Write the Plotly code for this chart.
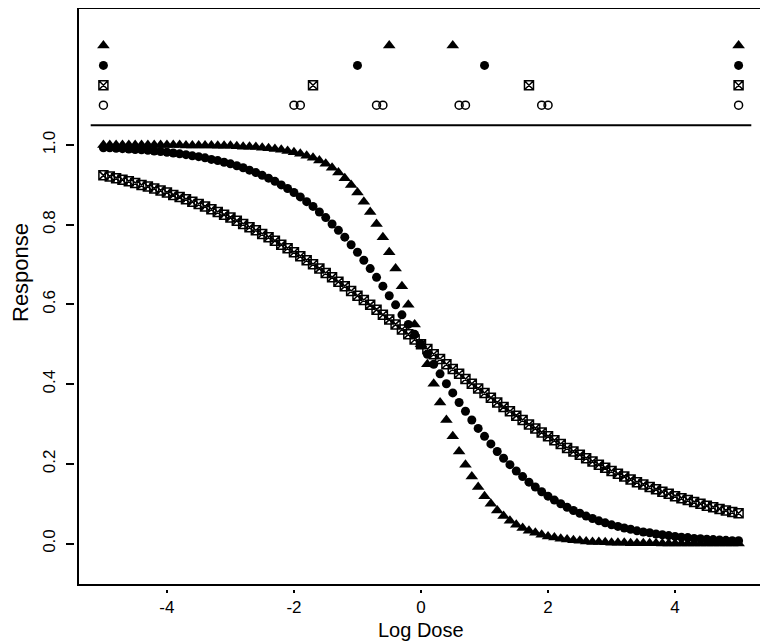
import plotly.graph_objects as go

log_dose = [-5.0, -4.9, -4.8, -4.7, -4.6, -4.5, -4.4, -4.3, -4.2, -4.1,
            -4.0, -3.9, -3.8, -3.7, -3.6, -3.5, -3.4, -3.3, -3.2, -3.1,
            -3.0, -2.9, -2.8, -2.7, -2.6, -2.5, -2.4, -2.3, -2.2, -2.1,
            -2.0, -1.9, -1.8, -1.7, -1.6, -1.5, -1.4, -1.3, -1.2, -1.1,
            -1.0, -0.9, -0.8, -0.7, -0.6, -0.5, -0.4, -0.3, -0.2, -0.1,
            0.0, 0.1, 0.2, 0.3, 0.4, 0.5, 0.6, 0.7, 0.8, 0.9,
            1.0, 1.1, 1.2, 1.3, 1.4, 1.5, 1.6, 1.7, 1.8, 1.9,
            2.0, 2.1, 2.2, 2.3, 2.4, 2.5, 2.6, 2.7, 2.8, 2.9,
            3.0, 3.1, 3.2, 3.3, 3.4, 3.5, 3.6, 3.7, 3.8, 3.9,
            4.0, 4.1, 4.2, 4.3, 4.4, 4.5, 4.6, 4.7, 4.8, 4.9, 5.0]

resp_steep = [1.000, 1.000, 1.000, 1.000, 1.000, 1.000, 1.000, 1.000, 1.000, 1.000,
              1.000, 1.000, 1.000, 0.999, 0.999, 0.999, 0.999, 0.999, 0.998, 0.998,
              0.998, 0.997, 0.996, 0.996, 0.995, 0.993, 0.992, 0.990, 0.988, 0.985,
              0.982, 0.978, 0.973, 0.968, 0.961, 0.953, 0.943, 0.931, 0.917, 0.900,
              0.881, 0.858, 0.832, 0.802, 0.769, 0.731, 0.690, 0.646, 0.599, 0.550,
              0.500,
              0.450, 0.401, 0.354, 0.310, 0.269, 0.231, 0.198, 0.168, 0.142, 0.119,
              0.100, 0.083, 0.069, 0.057, 0.047, 0.039, 0.032, 0.027, 0.022, 0.018,
              0.015, 0.012, 0.010, 0.008, 0.007, 0.005, 0.004, 0.004, 0.003, 0.002,
              0.002, 0.002, 0.001, 0.001, 0.001, 0.001, 0.001, 0.000, 0.000, 0.000,
              0.000, 0.000, 0.000, 0.000, 0.000, 0.000, 0.000, 0.000, 0.000, 0.000]

resp_mid = [0.993, 0.993, 0.992, 0.991, 0.990, 0.989, 0.988, 0.987, 0.985, 0.984,
            0.982, 0.980, 0.978, 0.976, 0.973, 0.971, 0.968, 0.964, 0.961, 0.957,
            0.953, 0.948, 0.943, 0.937, 0.931, 0.924, 0.917, 0.909, 0.900, 0.891,
            0.881, 0.870, 0.858, 0.846, 0.832, 0.818, 0.802, 0.786, 0.769, 0.750,
            0.731, 0.711, 0.690, 0.668, 0.646, 0.622, 0.599, 0.574, 0.550, 0.525,
            0.500,
            0.475, 0.450, 0.426, 0.401, 0.378, 0.354, 0.332, 0.310, 0.289, 0.269,
            0.250, 0.231, 0.214, 0.198, 0.182, 0.168, 0.154, 0.142, 0.130, 0.119,
            0.109, 0.100, 0.091, 0.083, 0.076, 0.069, 0.063, 0.057, 0.052, 0.047,
            0.043, 0.039, 0.036, 0.032, 0.029, 0.027, 0.024, 0.022, 0.020, 0.018,
            0.016, 0.015, 0.013, 0.012, 0.011, 0.010, 0.009, 0.008, 0.007, 0.007]

resp_shallow = [0.924, 0.921, 0.917, 0.913, 0.909, 0.905, 0.900, 0.896, 0.891, 0.886,
                0.881, 0.875, 0.870, 0.864, 0.858, 0.852, 0.846, 0.839, 0.832, 0.825,
                0.818, 0.810, 0.802, 0.794, 0.786, 0.777, 0.769, 0.760, 0.750, 0.741,
                0.731, 0.721, 0.711, 0.701, 0.690, 0.679, 0.668, 0.657, 0.646, 0.634,
                0.622, 0.611, 0.599, 0.587, 0.574, 0.562, 0.550, 0.537, 0.525, 0.512,
                0.500,
                0.488, 0.475, 0.463, 0.450, 0.438, 0.426, 0.413, 0.401, 0.389, 0.378,
                0.366, 0.354, 0.343, 0.332, 0.321, 0.310, 0.299, 0.289, 0.279, 0.269,
                0.259, 0.250, 0.240, 0.231, 0.223, 0.214, 0.206, 0.198, 0.190, 0.182,
                0.175, 0.168, 0.161, 0.154, 0.148, 0.142, 0.136, 0.130, 0.125, 0.119,
                0.114, 0.109, 0.104, 0.100, 0.095, 0.091, 0.087, 0.083, 0.079, 0.076]

# design-point rows shown above the reference line
row_tri_x = [-5.0, -0.5, 0.5, 5.0]
row_tri_y = [1.25, 1.25, 1.25, 1.25]
row_dot_x = [-5.0, -1.0, 1.0, 5.0]
row_dot_y = [1.20, 1.20, 1.20, 1.20]
row_sq_x = [-5.0, -1.7, 1.7, 5.0]
row_sq_y = [1.15, 1.15, 1.15, 1.15]
row_open_x = [-5.0, -2.0, -1.9, -0.7, -0.6, 0.6, 0.7, 1.9, 2.0, 5.0]
row_open_y = [1.10] * 10

ref_line_x = [-5.2, 5.2]
ref_line_y = 1.05

x_ticks = [-4, -2, 0, 2, 4]
x_tick_text = ["-4", "-2", "0", "2", "4"]
y_ticks = [0.0, 0.2, 0.4, 0.6, 0.8, 1.0]
y_tick_text = ["0.0", "0.2", "0.4", "0.6", "0.8", "1.0"]

BLACK = "black"
fig = go.Figure()

fig.add_trace(go.Scatter(x=log_dose, y=resp_shallow, mode="markers",
                         marker=dict(symbol="square-x-open", size=9, color=BLACK,
                                     line=dict(width=1.5, color=BLACK))))
fig.add_trace(go.Scatter(x=log_dose, y=resp_mid, mode="markers",
                         marker=dict(symbol="circle", size=9, color=BLACK)))
fig.add_trace(go.Scatter(x=log_dose, y=resp_steep, mode="markers",
                         marker=dict(symbol="triangle-up", size=11, color=BLACK)))

fig.add_trace(go.Scatter(x=row_tri_x, y=row_tri_y, mode="markers",
                         marker=dict(symbol="triangle-up", size=11, color=BLACK)))
fig.add_trace(go.Scatter(x=row_dot_x, y=row_dot_y, mode="markers",
                         marker=dict(symbol="circle", size=9, color=BLACK)))
fig.add_trace(go.Scatter(x=row_sq_x, y=row_sq_y, mode="markers",
                         marker=dict(symbol="square-x-open", size=9, color=BLACK,
                                     line=dict(width=1.5, color=BLACK))))
fig.add_trace(go.Scatter(x=row_open_x, y=row_open_y, mode="markers",
                         marker=dict(symbol="circle-open", size=8, color=BLACK,
                                     line=dict(width=1.5, color=BLACK))))

fig.add_shape(type="line", xref="x", yref="y",
              x0=ref_line_x[0], x1=ref_line_x[1], y0=ref_line_y, y1=ref_line_y,
              line=dict(color=BLACK, width=2))
fig.add_shape(type="rect", xref="x domain", yref="y domain",
              x0=0, x1=1, y0=0, y1=1, line=dict(color=BLACK, width=2))

# the page body adds an 8 px offset, so the figure is sized to the visible area
W, H = 760, 635
ml, mr, mt, mb = 66, 4, 0, 54
pw, ph = W - ml - mr, H - mt - mb

tick_font = dict(family="Liberation Sans, Arial, sans-serif", size=17, color=BLACK)
fig.update_layout(
    width=W, height=H,
    margin=dict(l=ml, r=mr, t=mt, b=mb, autoexpand=False),
    paper_bgcolor="white", plot_bgcolor="white",
    showlegend=False,
    xaxis=dict(range=[-5.4, 5.4], domain=[4 / pw, 1], anchor="free", position=0,
               automargin=False,
               tickvals=x_ticks, ticktext=x_tick_text, ticks="outside", ticklen=3,
               tickwidth=1.5, tickcolor=BLACK, showgrid=False, zeroline=False,
               showline=False, tickfont=tick_font),
    yaxis=dict(range=[-0.104, 1.344], domain=[4 / ph, 1], anchor="free", position=0,
               automargin=False,
               tickvals=y_ticks, ticktext=y_tick_text, tickangle=-90,
               ticks="outside", ticklen=8, tickwidth=1.5, ticklabelstandoff=4,
               tickcolor=BLACK, showgrid=False, zeroline=False, showline=False,
               tickfont=tick_font),
    annotations=[
        dict(text="Log Dose", xref="paper", yref="paper",
             x=0.5 + 2 / pw, y=(ph - 622) / ph, xanchor="center", yanchor="middle",
             showarrow=False,
             font=dict(family="Liberation Sans, Arial, sans-serif", size=20, color=BLACK)),
        dict(text="Response", xref="paper", yref="paper",
             x=(12 - ml) / pw, y=(ph - 264) / ph, xanchor="center", yanchor="middle",
             textangle=-90, showarrow=False,
             font=dict(family="Liberation Sans, Arial, sans-serif", size=22, color=BLACK)),
    ],
)

fig.write_html("out.html")
